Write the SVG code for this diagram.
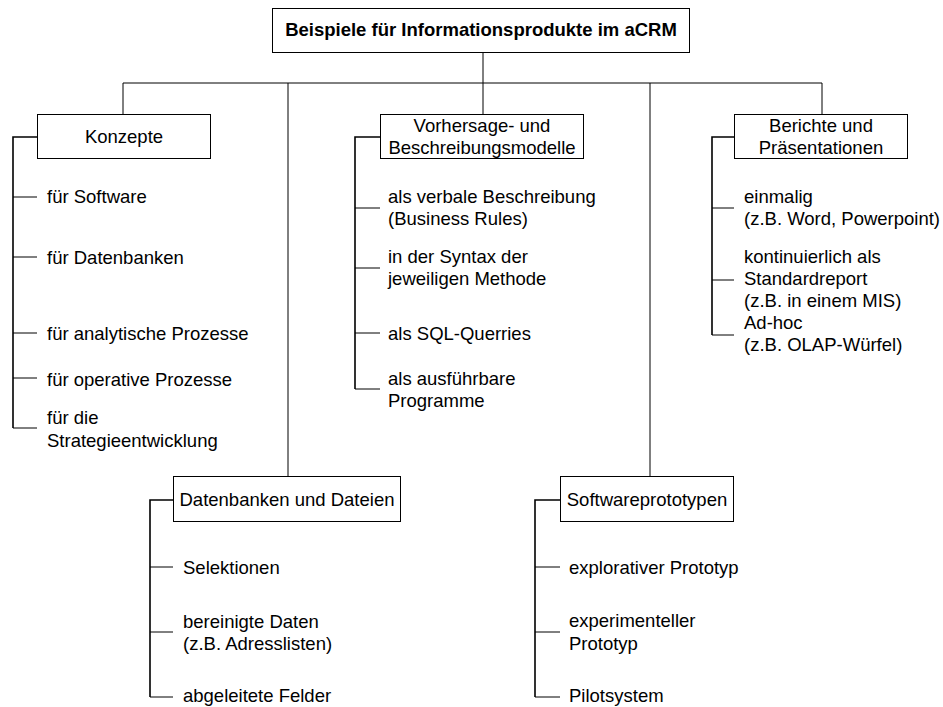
<svg xmlns="http://www.w3.org/2000/svg" width="943" height="707" viewBox="0 0 943 707">
  <style>
    text { font-family: "Liberation Sans", Arial, sans-serif; font-size: 18.5px; fill: #000; }
    .title { font-weight: bold; }
    .mid { text-anchor: middle; }
    .box { fill: #fff; stroke: #000; stroke-width: 1; }
    .tree { fill: none; stroke: #000; stroke-width: 1; }
    .spine { fill: none; stroke: #000; stroke-width: 1.6; }
    .tick { fill: none; stroke: #000; stroke-width: 1; }
  </style>

  <rect width="943" height="707" fill="#fff"/>

  <!-- connectors -->
  <g id="connectors">
    <!-- main tree -->
    <path class="tree" d="M483,53 V83 M123,83 H822 M123,83 V114 M483,83 V114 M822,83 V114 M288,83 V476 M650,83 V476"/>
    <!-- Konzepte list -->
    <path class="spine" d="M37,137 H13 V428"/>
    <path class="tick" d="M13,197 H37 M13,257 H37 M13,333 H37 M13,378 H37 M13,428 H37"/>
    <!-- Vorhersage list -->
    <path class="spine" d="M380,137 H355 V389"/>
    <path class="tick" d="M355,208 H380 M355,268 H380 M355,333 H380 M355,389 H380"/>
    <!-- Berichte list -->
    <path class="spine" d="M734,137 H712 V335"/>
    <path class="tick" d="M712,208 H734 M712,280 H734 M712,335 H734"/>
    <!-- Datenbanken list -->
    <path class="spine" d="M173,500 H150 V697"/>
    <path class="tick" d="M150,567 H173 M150,632 H173 M150,697 H173"/>
    <!-- Softwareprototypen list -->
    <path class="spine" d="M560,500 H535 V697"/>
    <path class="tick" d="M535,567 H560 M535,632 H560 M535,697 H560"/>
  </g>

  <!-- root -->
  <g id="root">
    <rect class="box" x="272.5" y="8.5" width="417" height="44"/>
    <text class="title mid" x="481" y="36">Beispiele für Informationsprodukte im aCRM</text>
  </g>

  <!-- Konzepte -->
  <g id="konzepte">
    <rect class="box" x="37.5" y="114.5" width="173" height="44"/>
    <text class="mid" x="124" y="143">Konzepte</text>
    <text x="47" y="203">für Software</text>
    <text x="47" y="264">für Datenbanken</text>
    <text x="47" y="340">für analytische Prozesse</text>
    <text x="47" y="386">für operative Prozesse</text>
    <text x="47" y="424">für die</text>
    <text x="47" y="447">Strategieentwicklung</text>
  </g>

  <!-- Vorhersage- und Beschreibungsmodelle -->
  <g id="modelle">
    <rect class="box" x="380.5" y="114.5" width="203" height="44"/>
    <text class="mid" x="482" y="132">Vorhersage- und</text>
    <text class="mid" x="482" y="154">Beschreibungsmodelle</text>
    <text x="388" y="203">als verbale Beschreibung</text>
    <text x="388" y="225">(Business Rules)</text>
    <text x="388" y="263">in der Syntax der</text>
    <text x="388" y="285">jeweiligen Methode</text>
    <text x="388" y="340">als SQL-Querries</text>
    <text x="388" y="385">als ausführbare</text>
    <text x="388" y="407">Programme</text>
  </g>

  <!-- Berichte und Präsentationen -->
  <g id="berichte">
    <rect class="box" x="734.5" y="114.5" width="173" height="44"/>
    <text class="mid" x="821" y="132">Berichte und</text>
    <text class="mid" x="821" y="154">Präsentationen</text>
    <text x="744" y="203">einmalig</text>
    <text x="744" y="225">(z.B. Word, Powerpoint)</text>
    <text x="744" y="263">kontinuierlich als</text>
    <text x="744" y="285">Standardreport</text>
    <text x="744" y="307">(z.B. in einem MIS)</text>
    <text x="744" y="329">Ad-hoc</text>
    <text x="744" y="351">(z.B. OLAP-Würfel)</text>
  </g>

  <!-- Datenbanken und Dateien -->
  <g id="datenbanken">
    <rect class="box" x="173.5" y="476.5" width="227" height="45"/>
    <text class="mid" x="287" y="506">Datenbanken und Dateien</text>
    <text x="183" y="574">Selektionen</text>
    <text x="183" y="628">bereinigte Daten</text>
    <text x="183" y="650">(z.B. Adresslisten)</text>
    <text x="183" y="702">abgeleitete Felder</text>
  </g>

  <!-- Softwareprototypen -->
  <g id="prototypen">
    <rect class="box" x="560.5" y="476.5" width="173" height="45"/>
    <text class="mid" x="647" y="506">Softwareprototypen</text>
    <text x="569" y="574">explorativer Prototyp</text>
    <text x="569" y="627">experimenteller</text>
    <text x="569" y="650">Prototyp</text>
    <text x="569" y="702">Pilotsystem</text>
  </g>
</svg>
